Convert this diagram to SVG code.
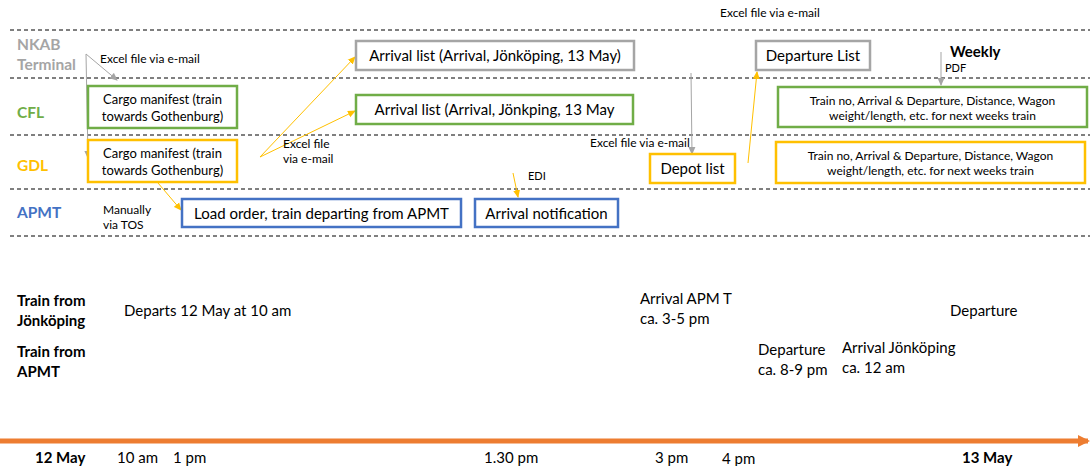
<svg xmlns="http://www.w3.org/2000/svg" width="1090" height="466" viewBox="0 0 1090 466">
<defs>
<style>
text{font-family:Lato,"Open Sans","Liberation Sans",sans-serif;fill:#000}
.dash{stroke:#000;stroke-width:1;stroke-dasharray:4 3;fill:none}
.lane{font-weight:bold;font-size:15.5px}
.box{fill:#fff;stroke-width:2.5}
.g{stroke:#A5A5A5}.gr{stroke:#70AD47}.y{stroke:#FFC000}.b{stroke:#4472C4}
.t15{font-size:15px}.t13{font-size:13px}.t12{font-size:12px}.t11{font-size:11px}.t10{font-size:10px}.tl{font-size:15px}
.cg{stroke:#A5A5A5;stroke-width:1;fill:none}
.cy{stroke:#FFC000;stroke-width:1;fill:none}
</style>
<marker id="ag" markerWidth="8" markerHeight="8" refX="7" refY="4" orient="auto" markerUnits="userSpaceOnUse"><path d="M0,0.5 L8,4 L0,7.5 z" fill="#A5A5A5"/></marker>
<marker id="ay" markerWidth="8" markerHeight="8" refX="7" refY="4" orient="auto" markerUnits="userSpaceOnUse"><path d="M0,0.5 L8,4 L0,7.5 z" fill="#FFC000"/></marker>
<marker id="ao" markerWidth="12" markerHeight="12" refX="10" refY="6" orient="auto" markerUnits="userSpaceOnUse"><path d="M0,0 L12,6 L0,12 z" fill="#ED7D31"/></marker>
</defs>
<rect width="1090" height="466" fill="#fff"/>
<g id="lanes">
<line class="dash" x1="10" y1="30" x2="1090" y2="30"/>
<line class="dash" x1="10" y1="78" x2="1090" y2="78"/>
<line class="dash" x1="10" y1="135" x2="1090" y2="135"/>
<line class="dash" x1="10" y1="189" x2="1090" y2="189"/>
<line class="dash" x1="10" y1="236" x2="1090" y2="236"/>
<text class="lane" x="17" y="50" style="fill:#A5A5A5">NKAB</text>
<text class="lane" x="17" y="70" style="fill:#A5A5A5">Terminal</text>
<text class="lane" x="17" y="118" style="fill:#70AD47">CFL</text>
<text class="lane" x="17" y="171" style="fill:#FFC000">GDL</text>
<text class="lane" x="17" y="218" style="fill:#4472C4">APMT</text>
</g>
<g id="connectors">
<polyline class="cg" points="86,54 117,80" marker-end="url(#ag)"/>
<polyline class="cg" points="86,54 88,158" marker-end="url(#ag)"/>
<line class="cy" x1="260" y1="157" x2="355" y2="57" marker-end="url(#ay)"/>
<line class="cy" x1="260" y1="157" x2="355" y2="111" marker-end="url(#ay)"/>
<line class="cy" x1="158" y1="183" x2="181" y2="210" marker-end="url(#ay)"/>
<line class="cy" x1="513" y1="173" x2="518" y2="197" marker-end="url(#ay)"/>
<line class="cg" x1="691" y1="73" x2="692" y2="154" marker-end="url(#ag)"/>
<line class="cy" x1="748" y1="163" x2="757" y2="72" marker-end="url(#ay)"/>
<line class="cg" x1="941" y1="52" x2="941" y2="85" marker-end="url(#ag)"/>
<line x1="0" y1="441" x2="1088" y2="441" stroke="#ED7D31" stroke-width="5" marker-end="url(#ao)"/>
</g>
<g id="connector-labels">
<text class="t12" x="100" y="63">Excel file via e-mail</text>
<text class="t12" x="283" y="148">Excel file</text>
<text class="t12" x="283" y="163">via e-mail</text>
<text class="t12" x="103" y="214">Manually</text>
<text class="t12" x="103" y="229">via TOS</text>
<text class="t11" x="528" y="180">EDI</text>
<text class="t12" x="590" y="147">Excel file via e-mail</text>
<text class="t12" x="720" y="17">Excel file via e-mail</text>
<text x="950" y="57" style="font-size:15px;font-weight:bold">Weekly</text>
<text class="t11" x="945" y="72">PDF</text>
</g>
<g id="cfl-cargo"><rect class="box gr" x="88" y="86" width="149" height="42"/>
<text class="t13" x="162.5" y="104" text-anchor="middle">Cargo manifest (train</text>
<text class="t13" x="162.5" y="121" text-anchor="middle">towards Gothenburg)</text></g>
<g id="gdl-cargo"><rect class="box y" x="88" y="140" width="149" height="42"/>
<text class="t13" x="162.5" y="158" text-anchor="middle">Cargo manifest (train</text>
<text class="t13" x="162.5" y="175" text-anchor="middle">towards Gothenburg)</text></g>
<g id="load-order"><rect class="box b" x="182" y="199" width="279" height="28"/>
<text class="t15" x="321.5" y="218.5" text-anchor="middle">Load order, train departing from APMT</text></g>
<g id="arrival-notification"><rect class="box b" x="475" y="199" width="143" height="28"/>
<text class="t15" x="546.5" y="218.5" text-anchor="middle">Arrival notification</text></g>
<g id="arrival-list-nkab"><rect class="box g" x="356" y="41" width="278" height="29"/>
<text class="t15" x="495" y="61" text-anchor="middle">Arrival list (Arrival, Jönköping, 13 May)</text></g>
<g id="arrival-list-cfl"><rect class="box gr" x="356" y="95" width="277" height="29"/>
<text class="t15" x="494.5" y="115" text-anchor="middle">Arrival list (Arrival, Jönkping, 13 May</text></g>
<g id="depot-list"><rect class="box y" x="650" y="154" width="85" height="29"/>
<text class="t15" x="692.5" y="174" text-anchor="middle">Depot list</text></g>
<g id="departure-list"><rect class="box g" x="756" y="41" width="114" height="29"/>
<text class="t15" x="813" y="61" text-anchor="middle">Departure List</text></g>
<g id="cfl-weekly"><rect class="box gr" x="778" y="87" width="309" height="40"/>
<text class="t12" x="932.5" y="105" text-anchor="middle">Train no, Arrival &amp; Departure, Distance, Wagon</text>
<text class="t12" x="932.5" y="120" text-anchor="middle">weight/length, etc. for next weeks train</text></g>
<g id="gdl-weekly"><rect class="box y" x="776" y="142" width="309" height="41"/>
<text class="t12" x="930.5" y="160" text-anchor="middle">Train no, Arrival &amp; Departure, Distance, Wagon</text>
<text class="t12" x="930.5" y="175" text-anchor="middle">weight/length, etc. for next weeks train</text></g>
<g id="timeline-text">
<text class="tl" x="17" y="306" style="font-weight:bold">Train from</text>
<text class="tl" x="17" y="326" style="font-weight:bold">Jönköping</text>
<text class="tl" x="17" y="357" style="font-weight:bold">Train from</text>
<text class="tl" x="17" y="377" style="font-weight:bold">APMT</text>
<text class="tl" x="124" y="316">Departs 12 May at 10 am</text>
<text class="tl" x="640" y="304">Arrival APM T</text>
<text class="tl" x="640" y="324">ca. 3-5 pm</text>
<text class="tl" x="950" y="316">Departure</text>
<text class="tl" x="758" y="355">Departure</text>
<text class="tl" x="758" y="375">ca. 8-9 pm</text>
<text class="tl" x="842" y="353">Arrival Jönköping</text>
<text class="tl" x="842" y="373">ca. 12 am</text>
<text class="tl" x="35" y="463" style="font-weight:bold">12 May</text>
<text class="tl" x="117" y="463">10 am</text>
<text class="tl" x="173" y="463">1 pm</text>
<text class="tl" x="484" y="463">1.30 pm</text>
<text class="tl" x="655" y="463">3 pm</text>
<text class="tl" x="722" y="464">4 pm</text>
<text class="tl" x="962" y="463" style="font-weight:bold">13 May</text>
</g>
</svg>
